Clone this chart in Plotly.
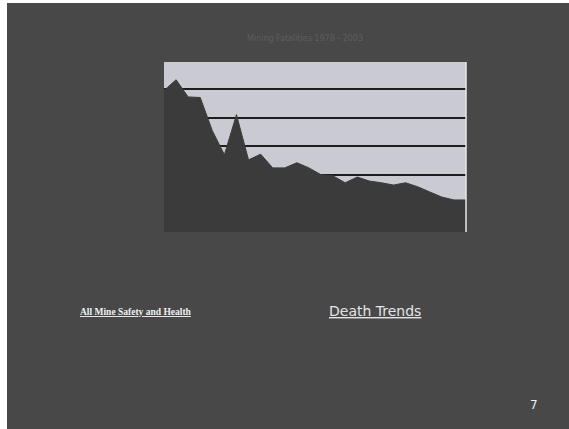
import plotly.graph_objects as go

years = list(range(1978, 2004))
fatalities = [247, 266, 236, 235, 177, 135, 205, 126, 136, 112, 112, 121, 112,
              100, 98, 86, 96, 89, 86, 82, 86, 79, 70, 61, 56, 56]
y_ticks = [0, 50, 100, 150, 200, 250]

W, H = 569, 429
slide_bg = "#484848"

fig = go.Figure()
fig.add_trace(go.Scatter(
    x=years, y=fatalities, mode="lines", fill="tozeroy",
    line=dict(color="#3b3b3b", width=1), fillcolor="#3b3b3b",
    hoverinfo="skip", showlegend=False))

fig.update_layout(
    width=W, height=H,
    margin=dict(l=0, r=0, t=0, b=0),
    paper_bgcolor=slide_bg,
    plot_bgcolor="#cacad3",
    xaxis=dict(domain=[164 / W, 466 / W], range=[1978, 2003],
               showgrid=False, showticklabels=False, zeroline=False,
               showline=False, ticks=""),
    yaxis=dict(domain=[(H - 232) / H, (H - 62) / H], range=[0, 297],
               tickvals=y_ticks, showgrid=True, gridcolor="#1e1e1e",
               gridwidth=1.5, showticklabels=False, zeroline=False,
               showline=False, ticks=""),
    shapes=[
        dict(type="rect", xref="paper", yref="paper",
             x0=0, x1=7 / W, y0=0, y1=1,
             fillcolor="white", line=dict(width=0)),
        dict(type="rect", xref="paper", yref="paper",
             x0=0, x1=1, y0=(H - 3) / H, y1=1,
             fillcolor="white", line=dict(width=0)),
        dict(type="line", xref="paper", yref="paper",
             x0=466 / W, x1=466 / W, y0=(H - 232) / H, y1=(H - 62) / H,
             line=dict(color="#e8e8e8", width=1.5)),
    ],
    annotations=[
        dict(text="Mining Fatalities 1978 - 2003", xref="paper", yref="paper",
             x=305 / W, y=(H - 38) / H, xanchor="center", yanchor="middle",
             showarrow=False,
             font=dict(family="DejaVu Sans", size=8, color="#5e5e5e")),
        dict(text="<u><b>All Mine Safety and Health</b></u>", xref="paper", yref="paper",
             x=78 / W, y=(H - 312) / H, xanchor="left", yanchor="middle",
             showarrow=False,
             font=dict(family="Liberation Serif", size=9.5, color="#f0f0f0")),
        dict(text="<u>Death Trends</u>", xref="paper", yref="paper",
             x=375 / W, y=(H - 311) / H, xanchor="center", yanchor="middle",
             showarrow=False,
             font=dict(family="DejaVu Sans", size=14, color="#e4e4e4")),
        dict(text="7", xref="paper", yref="paper",
             x=534 / W, y=(H - 405) / H, xanchor="center", yanchor="middle",
             showarrow=False,
             font=dict(family="DejaVu Sans", size=12, color="#f0f0f0")),
    ],
)

fig.write_html("out.html")
